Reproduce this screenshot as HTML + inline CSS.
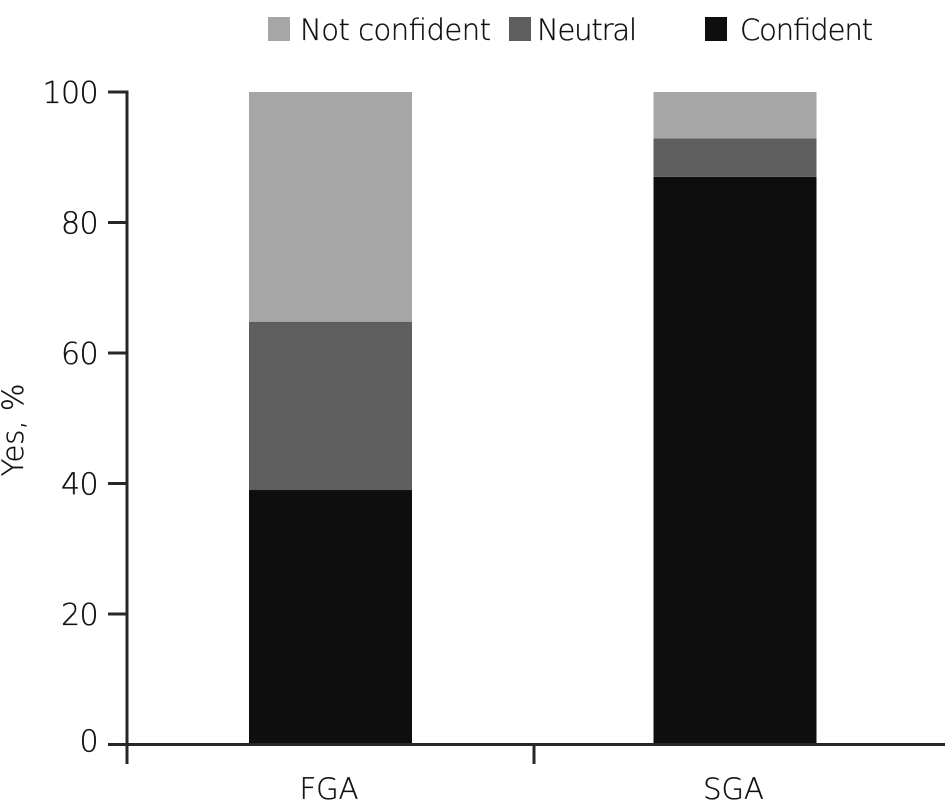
<!DOCTYPE html>
<html>
<head>
<meta charset="utf-8">
<style>
html,body{margin:0;padding:0;background:#fff;width:945px;height:801px;overflow:hidden}
svg{display:block}
text{font-family:"DejaVu Sans","Liberation Sans",sans-serif;font-weight:200;fill:#111;stroke:#111;stroke-width:0.35}
</style>
</head>
<body>
<svg id="chart" width="945" height="801" viewBox="0 0 945 801" xmlns="http://www.w3.org/2000/svg">
<text transform="translate(23,430) rotate(-90)" text-anchor="middle" font-size="29">Yes, %</text>
</svg>
<script>
const categories = ['FGA', 'SGA'];
const seriesNames = ['Confident', 'Neutral', 'Not confident'];
const confidentValues = [39, 87];
const neutralValues = [25.8, 5.9];
const notConfidentValues = [35.2, 7.1];
const yTicks = [0, 20, 40, 60, 80, 100];

const svgNS = 'http://www.w3.org/2000/svg';
const svg = document.getElementById('chart');
const colors = ['#0e0e0e', '#5e5e5e', '#a6a6a6'];
const seriesValues = [confidentValues, neutralValues, notConfidentValues];

const yScale = v => 744.5 - v * 6.525;
const barWidth = 163;
const xCenter = i => 330.5 + 404.5 * i;
const xTickPos = i => 127 + 407 * i;

function add(tag, attrs, text) {
  const el = document.createElementNS(svgNS, tag);
  for (const k in attrs) el.setAttribute(k, attrs[k]);
  if (text !== undefined) el.textContent = text;
  svg.appendChild(el);
  return el;
}

categories.forEach((cat, i) => {
  let cum = 0;
  seriesValues.forEach((vals, s) => {
    const y0 = yScale(cum);
    const y1 = yScale(cum + vals[i]);
    const r = add('rect', { x: xCenter(i) - barWidth / 2, y: y1, width: barWidth, height: y0 - y1, fill: colors[s] });
    
    
    cum += vals[i];
  });
  const lbl = add('text', { x: xCenter(i) - 1.5, y: 799, 'text-anchor': 'middle', 'font-size': 29 }, cat);
  
  
});

const axisStyle = { stroke: '#2a2627', 'stroke-width': 3, fill: 'none' };

const yAxis = add('line', Object.assign({ x1: 127, x2: 127, y1: yScale(100) - 1.5, y2: 764 }, axisStyle));



const xAxis = add('line', Object.assign({ x1: 108, x2: 945, y1: yScale(0), y2: yScale(0) }, axisStyle));



const xt = xTickPos(1);
const xTick = add('line', Object.assign({ x1: xt, x2: xt, y1: yScale(0), y2: 764 }, axisStyle));



yTicks.forEach(v => {
  const t = add('line', Object.assign({ x1: 108, x2: 127, y1: yScale(v), y2: yScale(v) }, axisStyle));
  
  
  const lbl = add('text', { x: 98, y: yScale(v) + (v === 0 ? 7 : 11), 'text-anchor': 'end', 'font-size': 30, 'letter-spacing': -0.6 }, String(v));
  
  
});

const legendOrder = [2, 1, 0];
const legendSwatchX = [268, 509, 705];
const legendTextX = [300, 537, 740];
const legendTextWidth = [191, 100, 133];
legendOrder.forEach((s, i) => {
  const r = add('rect', { x: legendSwatchX[i], y: 17, width: 22, height: 24, fill: colors[s] });
  
  
  const lbl = add('text', { x: legendTextX[i], y: 40, 'font-size': 29, textLength: legendTextWidth[i], lengthAdjust: 'spacing' }, seriesNames[s]);
  
  
});
</script>
</body>
</html>
